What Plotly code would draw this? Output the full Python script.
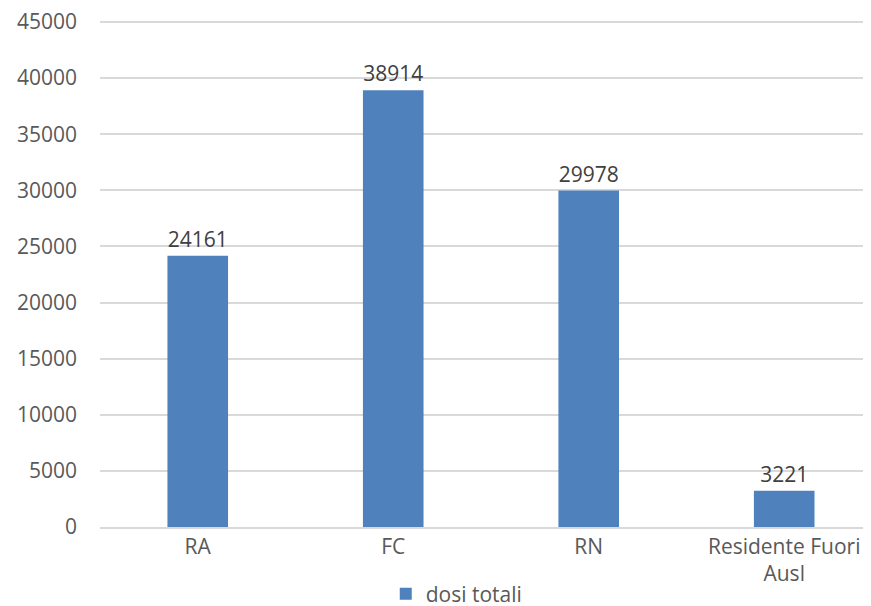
import plotly.graph_objects as go

categories = ["RA", "FC", "RN", "Residente Fuori<br>Ausl"]
values = [24161, 38914, 29978, 3221]
series_name = "dosi totali"
y_ticks = [0, 5000, 10000, 15000, 20000, 25000, 30000, 35000, 40000, 45000]

FONT = "Open Sans"
SIZE = 21
fig = go.Figure()
fig.add_trace(go.Bar(
    x=list(range(len(categories))),
    y=values,
    name=series_name,
    width=0.31,
    marker=dict(color="#4F81BD", line=dict(width=0)),
    text=[str(v) for v in values],
    textposition="outside",
    textfont=dict(family=FONT, size=SIZE, color="#404040"),
    cliponaxis=False,
))

fig.update_layout(
    width=863, height=598,
    margin=dict(l=92, r=0, t=13, b=79, autoexpand=False),
    paper_bgcolor="white", plot_bgcolor="white",
    font=dict(family=FONT, size=SIZE, color="#595959"),
    showlegend=True,
    legend=dict(orientation="h", xref="container", yref="container",
                x=0.52, xanchor="center", y=0.02, yanchor="middle",
                font=dict(family=FONT, size=SIZE, color="#595959"),
                itemwidth=30),
    xaxis=dict(
        range=[-0.5, 3.444],
        tickmode="array",
        tickvals=list(range(len(categories))),
        ticktext=categories,
        showgrid=False,
        showline=True, linecolor="#D9D9D9", linewidth=1.5,
        ticks="", zeroline=False,
    ),
    yaxis=dict(
        range=[0, 45090],
        tickmode="array",
        tickvals=y_ticks,
        ticktext=[str(t) for t in y_ticks],
        showgrid=True, gridcolor="#D9D9D9", gridwidth=1.5,
        zeroline=False, showline=False,
        ticks="", ticklabelstandoff=22, ticklabeloverflow="allow",
    ),
)

fig.write_html("out.html")
